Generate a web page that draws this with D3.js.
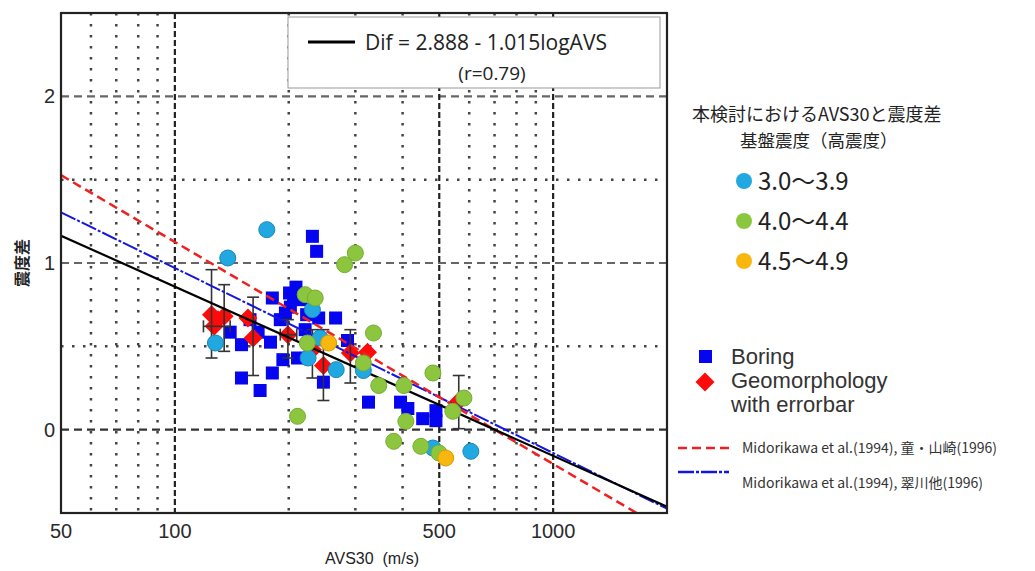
<!DOCTYPE html>
<html>
<head>
<meta charset="utf-8">
<script src="https://cdn.jsdelivr.net/npm/d3@7"></script>
<style>
  body { margin: 0; background: #fff; }
  text { font-family: "Liberation Sans", Arial, sans-serif; }
  .jp { font-family: "Noto Sans CJK JP", "Noto Sans", sans-serif; }
</style>
</head>
<body>
<svg id="chart" width="1035" height="571"></svg>
<script>
// axis ticks and grid
const xTicks = [50, 100, 500, 1000];
const yTicks = [0, 1, 2];
const xMajorGrid = [100, 500, 1000];
const xMinorGrid = [60, 70, 80, 90, 200, 300, 400, 600, 700, 800, 900];
const yMajorGrid = [0, 1, 2];
const yMinorGrid = [0.5, 1.5];

// Boring (AVS30, intensity difference)
const boring = [
  [231, 1.16], [237, 1.07], [209, 0.855], [201, 0.82], [215, 0.78], [181, 0.79],
  [202, 0.735], [240, 0.67], [266, 0.67], [140, 0.585], [150, 0.51], [179, 0.525],
  [166, 0.585], [193, 0.42], [211, 0.43], [181, 0.34], [150, 0.31], [168, 0.235],
  [247, 0.285], [286, 0.535], [325, 0.165], [395, 0.165], [413, 0.127], [452, 0.066],
  [490, 0.114], [490, 0.054], [221, 0.60], [190, 0.66], [223, 0.69], [158, 0.66],
  [206, 0.80], [196, 0.70]
];

// Geomorphology with errorbar: [x, y, yLow, yHigh, xLow, xHigh]
const geomorph = [
  [125, 0.69, 0.43, 0.96, null, null],
  [135, 0.68, 0.47, 0.87, null, null],
  [127, 0.62, null, null, 119, 140],
  [130, 0.66, null, null, null, null],
  [156, 0.67, null, null, null, null],
  [161, 0.55, 0.325, 0.795, null, null],
  [199, 0.57, 0.43, 0.66, 190, 210],
  [231, 0.48, 0.31, 0.60, null, null],
  [247, 0.385, 0.175, 0.60, null, null],
  [291, 0.46, 0.28, 0.60, null, null],
  [323, 0.465, null, null, null, null],
  [563, 0.17, 0.006, 0.325, null, null]
];

// base intensity classes
const rangeLabels = ["3.0～3.9", "4.0～4.4", "4.5～4.9"];
const range30 = [
  [175, 1.20], [138, 1.03], [128, 0.52], [231, 0.72], [242, 0.55], [225, 0.43],
  [267, 0.36], [315, 0.355], [481, -0.11], [606, -0.13]
];
const range40 = [
  [300, 1.06], [281, 0.99], [221, 0.81], [235, 0.79], [335, 0.58], [224, 0.52],
  [315, 0.40], [346, 0.265], [403, 0.265], [481, 0.34], [581, 0.19], [543, 0.11],
  [211, 0.08], [408, 0.05], [379, -0.07], [447, -0.10], [499, -0.14]
];
const range45 = [[255, 0.52], [520, -0.17]];

// fitted lines: Dif = a - b * log10(AVS)
const fitThis = [2.888, 1.015];
const fitTong = [3.79, 1.332];
const fitMido = [3.19, 1.11];

const svg = d3.select("#chart");
const x = d3.scaleLog().domain([50, 2000]).range([61, 667]);
const y = d3.scaleLinear().domain([-0.5, 2.5]).range([513, 13]);

svg.append("defs").append("clipPath").attr("id", "plot")
  .append("rect").attr("x", 61).attr("y", 13).attr("width", 606).attr("height", 500);

const grid = svg.append("g");
grid.selectAll(".vmin").data(xMinorGrid).join("line")
  .attr("x1", d => x(d)).attr("x2", d => x(d)).attr("y1", 13).attr("y2", 513)
  .attr("stroke", "#444").attr("stroke-width", 2.5).attr("stroke-dasharray", "2.5,8.5");
grid.selectAll(".hmin").data(yMinorGrid).join("line")
  .attr("x1", 61).attr("x2", 667).attr("y1", d => y(d)).attr("y2", d => y(d))
  .attr("stroke", "#444").attr("stroke-width", 2.5).attr("stroke-dasharray", "2.5,8.5");
grid.selectAll(".hmaj").data(yMajorGrid).join("line")
  .attr("x1", 61).attr("x2", 667).attr("y1", d => y(d)).attr("y2", d => y(d))
  .attr("stroke", d => d === 0 ? "#333" : "#666").attr("stroke-width", 2.2).attr("stroke-dasharray", "8,5");
grid.selectAll(".vmaj").data(xMajorGrid).join("line")
  .attr("x1", d => x(d)).attr("x2", d => x(d)).attr("y1", 13).attr("y2", 513)
  .attr("stroke", "#222").attr("stroke-width", 2.2).attr("stroke-dasharray", "6,3");

// legend box for fit equation
const box = svg.append("g");
box.append("rect").attr("x", 288).attr("y", 17).attr("width", 372).attr("height", 71)
  .attr("fill", "#fff").attr("stroke", "#999").attr("stroke-width", 1);
box.append("line").attr("x1", 308).attr("x2", 355).attr("y1", 42).attr("y2", 42)
  .attr("stroke", "#000").attr("stroke-width", 3);
box.append("text").attr("x", 365).attr("y", 50).attr("font-size", 21)
  .style("font-family", "'Open Sans', 'Noto Sans', sans-serif").attr("fill", "#222")
  .text("Dif = 2.888 - 1.015logAVS");
box.append("text").attr("x", 492).attr("y", 80).attr("font-size", 19).attr("text-anchor", "middle")
  .style("font-family", "'Open Sans', 'Noto Sans', sans-serif").attr("fill", "#222")
  .text("(r=0.79)");

const plot = svg.append("g").attr("clip-path", "url(#plot)");

// Boring squares
plot.selectAll(".sq").data(boring).join("rect")
  .attr("x", d => x(d[0]) - 6.5).attr("y", d => y(d[1]) - 6.5)
  .attr("width", 13).attr("height", 13).attr("fill", "#0505F0");

// Geomorphology diamonds and error bars
const diamond = d3.symbol().type(d3.symbolDiamond2).size(230);
plot.selectAll(".dm").data(geomorph).join("path")
  .attr("d", diamond).attr("transform", d => `translate(${x(d[0])},${y(d[1])})`)
  .attr("fill", "#FF0A0A");
const eb = plot.append("g").attr("stroke", "#333").attr("stroke-width", 1.6);
geomorph.filter(d => d[2] !== null).forEach(d => {
  const cx = x(d[0]);
  eb.append("line").attr("x1", cx).attr("x2", cx).attr("y1", y(d[2])).attr("y2", y(d[3]));
  [d[2], d[3]].forEach(v => eb.append("line").attr("x1", cx - 6).attr("x2", cx + 6)
    .attr("y1", y(v)).attr("y2", y(v)));
});
geomorph.filter(d => d[4] !== null).forEach(d => {
  const cy = y(d[1]);
  eb.append("line").attr("x1", x(d[4])).attr("x2", x(d[5])).attr("y1", cy).attr("y2", cy);
  [d[4], d[5]].forEach(v => eb.append("line").attr("x1", x(v)).attr("x2", x(v))
    .attr("y1", cy - 6).attr("y2", cy + 6));
});

// fitted lines
const line = d3.line().x(d => x(d[0])).y(d => y(d[1]));
const fitPts = f => x.domain().map(v => [v, f[0] - f[1] * Math.log10(v)]);
plot.append("path").datum(fitPts(fitMido)).attr("d", line).attr("fill", "none")
  .attr("stroke", "#1515E0").attr("stroke-width", 2).attr("stroke-dasharray", "16,2,3,2");
plot.append("path").datum(fitPts(fitTong)).attr("d", line).attr("fill", "none")
  .attr("stroke", "#F02020").attr("stroke-width", 2.5).attr("stroke-dasharray", "9,5");
plot.append("path").datum(fitPts(fitThis)).attr("d", line).attr("fill", "none")
  .attr("stroke", "#000").attr("stroke-width", 2.2);

// intensity circles
const circleColors = ["#21A8E0", "#8CC63F", "#F7B70F"];
const circleStrokes = ["#1788B8", "#76AD32", "#D99C00"];
[range30, range40, range45].forEach((data, i) => {
  plot.append("g").selectAll("circle").data(data).join("circle")
    .attr("cx", d => x(d[0])).attr("cy", d => y(d[1])).attr("r", 8)
    .attr("fill", circleColors[i]).attr("stroke", circleStrokes[i]).attr("stroke-width", 1);
});

// frame
svg.append("rect").attr("x", 61).attr("y", 13).attr("width", 606).attr("height", 500)
  .attr("fill", "none").attr("stroke", "#222").attr("stroke-width", 2.2);

// ticks
svg.selectAll(".xt").data(xTicks).join("text")
  .attr("x", d => x(d)).attr("y", 538).attr("text-anchor", "middle")
  .attr("font-size", 20).attr("fill", "#2a2a2a").text(d => d);
svg.selectAll(".yt").data(yTicks).join("text")
  .attr("x", 55).attr("y", d => y(d) + 7).attr("text-anchor", "end")
  .attr("font-size", 20).attr("fill", "#2a2a2a").text(d => d);

svg.append("text").attr("x", 372).attr("y", 564).attr("text-anchor", "middle")
  .attr("font-size", 16).attr("fill", "#222").attr("xml:space", "preserve")
  .text("AVS30  (m/s)");
svg.append("text").attr("class", "jp").attr("transform", "translate(28,263) rotate(-90)")
  .attr("text-anchor", "middle").attr("font-size", 16).attr("font-weight", "bold")
  .attr("fill", "#222").text("震度差");

// right legend
const lg = svg.append("g");
lg.append("text").attr("class", "jp").attr("x", 692).attr("y", 121).attr("font-size", 18)
  .attr("fill", "#222").text("本検討におけるAVS30と震度差");
lg.append("text").attr("class", "jp").attr("x", 740).attr("y", 147).attr("font-size", 17.5)
  .attr("fill", "#222").text("基盤震度（高震度）");
rangeLabels.forEach((t, i) => {
  const cy = 181 + i * 40;
  lg.append("circle").attr("cx", 744).attr("cy", cy).attr("r", 8).attr("fill", circleColors[i]);
  lg.append("text").attr("class", "jp").attr("x", 758).attr("y", cy + 9).attr("font-size", 24)
    .attr("fill", "#222").text(t);
});

lg.append("rect").attr("x", 699).attr("y", 350).attr("width", 13).attr("height", 13).attr("fill", "#0505F0");
lg.append("path").attr("d", d3.symbol().type(d3.symbolDiamond2).size(230))
  .attr("transform", "translate(705,382)").attr("fill", "#FF0A0A");
[["Boring", 364], ["Geomorphology", 388], ["with errorbar", 412]].forEach(d => {
  lg.append("text").attr("x", 731).attr("y", d[1]).attr("font-size", 22).attr("fill", "#333").text(d[0]);
});

lg.append("line").attr("x1", 678).attr("x2", 729).attr("y1", 448).attr("y2", 448)
  .attr("stroke", "#F02020").attr("stroke-width", 2.5).attr("stroke-dasharray", "9,5");
lg.append("text").attr("class", "jp").attr("x", 742).attr("y", 453).attr("font-size", 14)
  .attr("fill", "#333").text("Midorikawa et al.(1994), 童・山崎(1996)");
lg.append("line").attr("x1", 678).attr("x2", 729).attr("y1", 472).attr("y2", 472)
  .attr("stroke", "#1515E0").attr("stroke-width", 2.5).attr("stroke-dasharray", "16,2,3,2");
lg.append("text").attr("class", "jp").attr("x", 742).attr("y", 488).attr("font-size", 14)
  .attr("fill", "#333").text("Midorikawa et al.(1994), 翠川他(1996)");
</script>
</body>
</html>
